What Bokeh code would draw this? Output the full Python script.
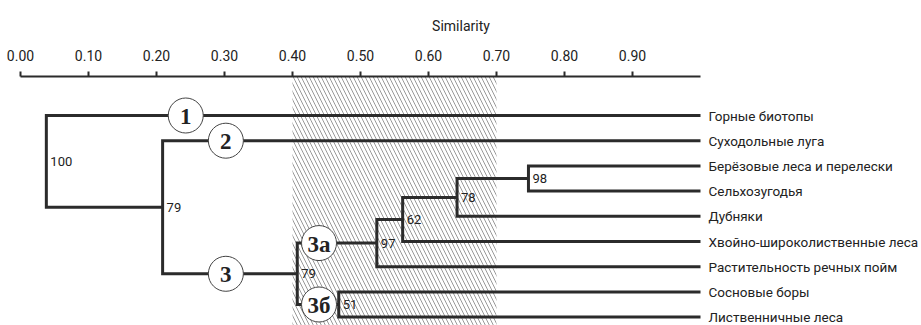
from bokeh.plotting import figure
from bokeh.models import Range1d, LinearAxis, FixedTicker, NumeralTickFormatter
from bokeh.core.properties import value
from bokeh.embed import file_html
from bokeh.resources import INLINE

# ---------------- data ----------------
leaves = [
    "Горные биотопы",
    "Суходольные луга",
    "Берёзовые леса и перелески",
    "Сельхозугодья",
    "Дубняки",
    "Хвойно-широколиственные леса",
    "Растительность речных пойм",
    "Сосновые боры",
    "Лиственничные леса",
]
# internal nodes: name, child A, child B, similarity level, support value
node_names = ["n98", "n78", "n62", "n97", "n51", "n3", "n2", "root"]
node_child_a = ["Берёзовые леса и перелески", "n98", "n78", "n62", "Сосновые боры", "n97", "Суходольные луга", "Горные биотопы"]
node_child_b = ["Сельхозугодья", "Дубняки", "Хвойно-широколиственные леса", "Растительность речных пойм", "Лиственничные леса", "n51", "n3", "n2"]
node_similarity = [0.747, 0.642, 0.562, 0.524, 0.468, 0.407, 0.209, 0.038]
node_support = [98, 78, 62, 97, 51, 79, 79, 100]

# circled cluster marks: label, branch they sit on, similarity position
cluster_labels = ["1", "2", "3", "3а", "3б"]
cluster_branch = ["Горные биотопы", "Суходольные луга", "n3", "n97", "n51"]
cluster_pos = [0.243, 0.302, 0.302, 0.439, 0.439]

tick_values = [0.0, 0.1, 0.2, 0.3, 0.4, 0.5, 0.6, 0.7, 0.8, 0.9]
axis_end = 1.0
shaded_band = (0.40, 0.70)

# ---------------- layout ----------------
W, H = 921, 325
TOP = 76            # frame top (axis line) in canvas px
X0_PX = 20          # canvas px of similarity 0
PX_PER_UNIT = 680
ROW0_PX = 115       # canvas px of first leaf
ROW_PX = 25.2

x_start = -X0_PX / PX_PER_UNIT
x_end = (W - X0_PX) / PX_PER_UNIT
y_top = (TOP - ROW0_PX) / ROW_PX
y_bottom = (H - ROW0_PX) / ROW_PX

FONT = "Roboto"
INK = "#2b2b2b"
TXT = "#222222"

p = figure(width=W, height=H, output_backend="svg", toolbar_location=None,
           x_range=Range1d(x_start, x_end), y_range=Range1d(y_bottom, y_top),
           min_border_left=0, min_border_right=0, min_border_bottom=0, min_border_top=TOP,
           x_axis_location=None, y_axis_location=None)
p.outline_line_color = None
p.grid.visible = False
p.background_fill_color = "white"
p.border_fill_color = "white"

# hatched band
p.quad(left=[shaded_band[0]], right=[shaded_band[1]], top=[y_top], bottom=[y_bottom],
       fill_color="white", line_color=None, hatch_pattern="\\", hatch_color="#9a9a9a",
       hatch_scale=8, hatch_weight=1)

# tree geometry
pos = {}
for i, name in enumerate(leaves):
    pos[name] = (axis_end, float(i))
for name, a, b, s in zip(node_names, node_child_a, node_child_b, node_similarity):
    pos[name] = (s, (pos[a][1] + pos[b][1]) / 2)

xs, ys = [], []
for name, a, b, s in zip(node_names, node_child_a, node_child_b, node_similarity):
    xa, ya = pos[a]
    xb, yb = pos[b]
    xs.append([xa, s, s, xb])
    ys.append([ya, ya, yb, yb])
p.multi_line(xs, ys, line_color=INK, line_width=3, line_join="miter")

# leaf labels
p.text(x=[axis_end] * len(leaves), y=list(range(len(leaves))), text=leaves,
       x_offset=8, text_baseline="middle", text_align="left",
       text_font=value(FONT), text_font_size="13.5px", text_color=TXT)

# support values
p.text(x=node_similarity, y=[pos[n][1] for n in node_names], text=[str(v) for v in node_support],
       x_offset=4, text_baseline="middle", text_align="left",
       text_font=value(FONT), text_font_size="13px", text_color=TXT)

# circled cluster marks
cy = [pos[b][1] for b in cluster_branch]
p.scatter(x=cluster_pos, y=cy, size=35, marker="circle", fill_color="white",
          line_color="#444444", line_width=1)
p.text(x=cluster_pos, y=cy, text=cluster_labels, text_align="center", text_baseline="middle",
       y_offset=1, text_font=value("Liberation Serif"), text_font_style="bold",
       text_font_size="23px", text_color=TXT)

# axis on top
ax = LinearAxis(ticker=FixedTicker(ticks=tick_values), formatter=NumeralTickFormatter(format="0.00"),
                bounds=(0.0, axis_end), axis_label="Similarity")
ax.axis_line_color = INK
ax.axis_line_width = 2
ax.major_tick_line_color = INK
ax.major_tick_line_width = 2
ax.major_tick_out = 5
ax.major_tick_in = 0
ax.minor_tick_out = 0
ax.minor_tick_in = 0
ax.major_label_standoff = 11
ax.major_label_text_font = FONT
ax.major_label_text_font_size = "14px"
ax.major_label_text_color = TXT
ax.axis_label_standoff = 13
ax.axis_label_text_font = FONT
ax.axis_label_text_font_size = "14px"
ax.axis_label_text_font_style = "normal"
ax.axis_label_text_color = TXT
p.add_layout(ax, "above")

open("out.html", "w").write(file_html(p, INLINE))
